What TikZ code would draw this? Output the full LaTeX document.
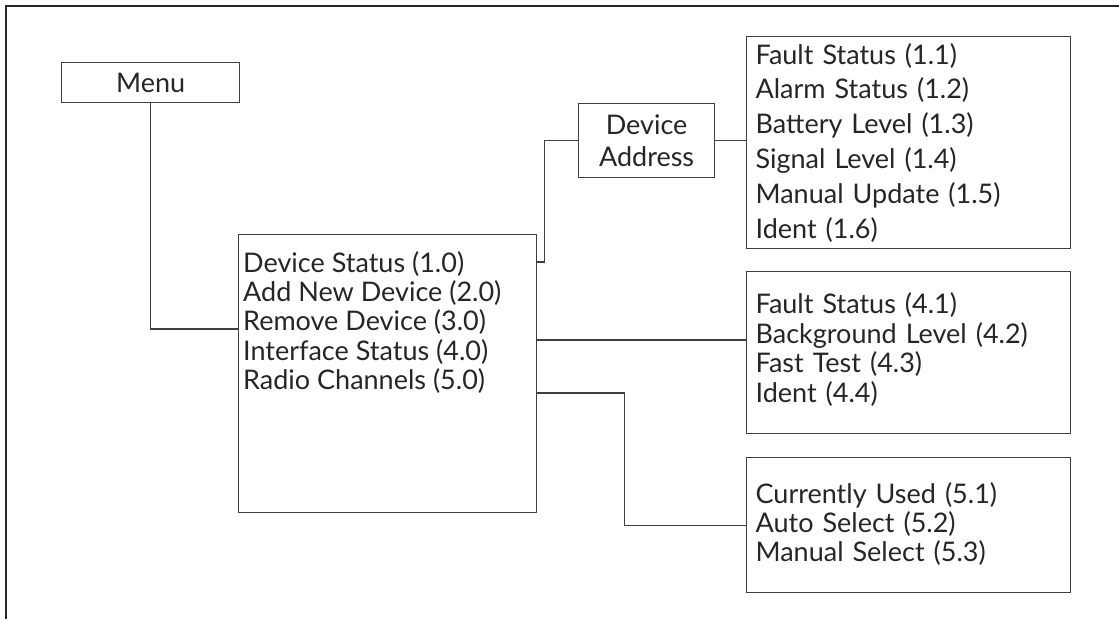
\documentclass[tikz,border=0pt]{standalone}
\usepackage{fontspec}
\setmainfont{Lato}

\newcommand\entryfont{\fontsize{27}{29.4}\selectfont}
% extra depth under the last line of a list, lifts the text in its box
\newcommand\lastdepth[1]{\rule[-#1]{0pt}{0pt}}
\tikzset{
  menubox/.style={draw=black!75, line width=1.2pt, inner sep=0pt, anchor=north west, text=black!85, font=\entryfont},
  listbox/.style={menubox, align=left, text width=306pt, inner xsep=9pt},
  link/.style={draw=black!75, line width=1.2pt},
  frame/.style={draw=black!85, line width=1.8pt},
}

\begin{document}
\begin{tikzpicture}[x=1pt, y=-1pt]
        \useasboundingbox (0,0) rectangle (1119,619);
        \draw[frame](6,619)--(6,6)--(1119,6);

        \node[menubox, minimum width=178pt, minimum height=40pt] (menu) at (61,62) {Menu};
        \node[menubox, minimum width=298pt, minimum height=278pt] (main) at (238,234) {};
        \node[anchor=north west, align=left, inner sep=0pt, text=black!85, font=\entryfont] (mainitems) at ([shift={(5,17)}]main.north west)
            {Device Status (1.0)\\ Add New Device (2.0)\\ Remove Device (3.0)\\ Interface Status (4.0)\\ Radio Channels (5.0)};
        \node[menubox, minimum width=136pt, minimum height=74pt, align=center, font=\fontsize{27}{32}\selectfont] (addr) at (578,103) {Device\\ Address};

        \node[listbox, minimum height=212pt, font=\fontsize{27}{34.8}\selectfont] (devlist) at (746,36)
            {Fault Status (1.1)\\ Alarm Status (1.2)\\ Battery Level (1.3)\\ Signal Level (1.4)\\ Manual Update (1.5)\\ Ident (1.6)};
        \node[listbox, minimum height=162pt] (ifacelist) at (746,271)
            {Fault Status (4.1)\\ Background Level (4.2)\\ Fast Test (4.3)\\ Ident (4.4)\lastdepth{10pt}};
        \node[listbox, minimum height=135pt] (radiolist) at (746,457)
            {Currently Used (5.1)\\ Auto Select (5.2)\\ Manual Select (5.3)\lastdepth{6pt}};

        % exits on the right side of the main menu
        \coordinate (statusout) at ([yshift=-28pt]main.north east);
        \coordinate (ifaceout) at ([yshift=-106pt]main.north east);
        \coordinate (radioout) at ([yshift=-159pt]main.north east);

        \draw[link](menu.south)|-([yshift=-95pt]main.north west);
        \draw[link](statusout)--++(7,0)|-(addr.west);
        \draw[link](addr.east)--(addr.east-|devlist.west);
        \draw[link](ifaceout)--(ifaceout-|ifacelist.west);
        \draw[link](radioout)--++(87,0)|-(radiolist.west);
    \end{tikzpicture}
\end{document}
